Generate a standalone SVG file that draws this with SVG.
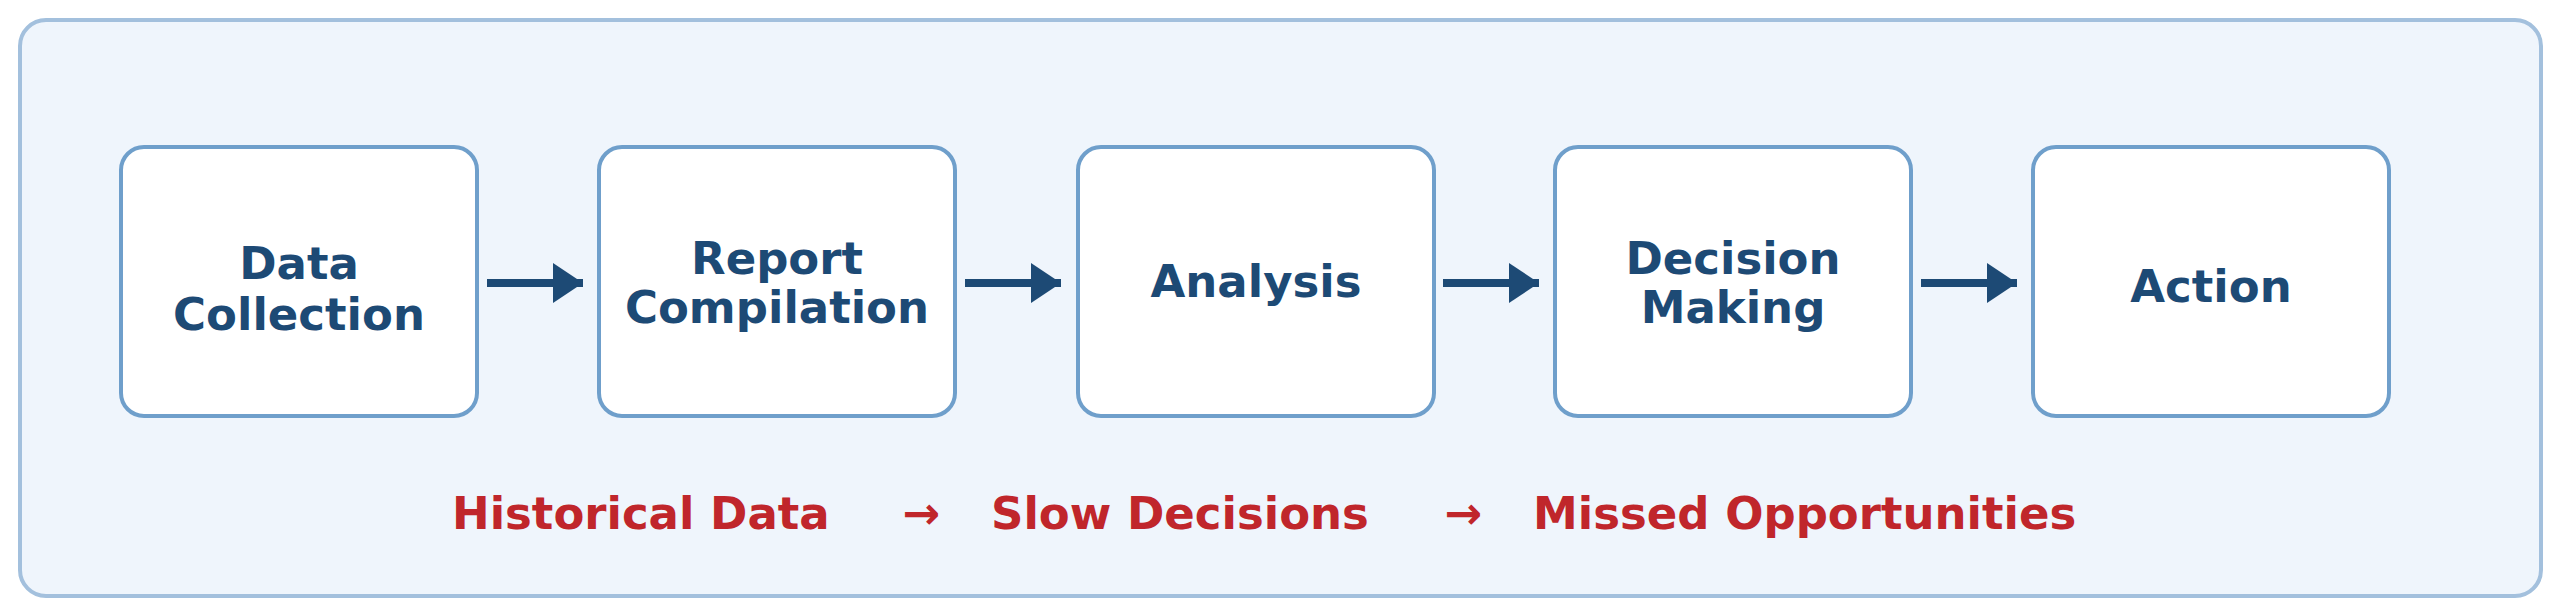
<svg xmlns="http://www.w3.org/2000/svg" width="2560" height="614" viewBox="0 0 2560 614">
<style>
.box{fill:#fff;stroke:#6f9fcb;stroke-width:4}
.t{font-family:"DejaVu Sans",sans-serif;font-weight:bold;font-size:45px;fill:#1d4a75;text-anchor:middle}
.r{font-family:"DejaVu Sans",sans-serif;font-weight:bold;font-size:45px;fill:#c0262b}
.a{fill:none;stroke:#1d4a75;stroke-width:8}
</style>
<defs><marker id="h" markerUnits="userSpaceOnUse" markerWidth="30" markerHeight="40" refX="30" refY="20" orient="auto"><path d="M0,0L30,20L0,40z" fill="#1d4a75"/></marker></defs>
<rect x="20" y="20" width="2521" height="576" rx="26" fill="#eff5fc" stroke="#a3c0dd" stroke-width="4"/>
<g id="n1"><rect class="box" x="121" y="147" width="356" height="269" rx="23"/><text class="t" x="299" y="279">Data</text><text class="t" x="299" y="330">Collection</text></g>
<g id="n2"><rect class="box" x="599" y="147" width="356" height="269" rx="23"/><text class="t" x="777" y="274">Report</text><text class="t" x="777" y="323">Compilation</text></g>
<g id="n3"><rect class="box" x="1078" y="147" width="356" height="269" rx="23"/><text class="t" x="1256" y="297">Analysis</text></g>
<g id="n4"><rect class="box" x="1555" y="147" width="356" height="269" rx="23"/><text class="t" x="1733" y="274">Decision</text><text class="t" x="1733" y="323">Making</text></g>
<g id="n5"><rect class="box" x="2033" y="147" width="356" height="269" rx="23"/><text class="t" x="2211" y="302">Action</text></g>
<g id="connectors">
<line class="a" x1="487" y1="283" x2="583" y2="283" marker-end="url(#h)"/>
<line class="a" x1="965" y1="283" x2="1061" y2="283" marker-end="url(#h)"/>
<line class="a" x1="1443" y1="283" x2="1539" y2="283" marker-end="url(#h)"/>
<line class="a" x1="1921" y1="283" x2="2017" y2="283" marker-end="url(#h)"/>
</g>
<g id="caption">
<text class="r" x="452" y="529">Historical Data</text>
<text class="r" x="921" y="529" text-anchor="middle">→</text>
<text class="r" x="991" y="529">Slow Decisions</text>
<text class="r" x="1463" y="529" text-anchor="middle">→</text>
<text class="r" x="1533" y="529">Missed Opportunities</text>
</g>
</svg>
